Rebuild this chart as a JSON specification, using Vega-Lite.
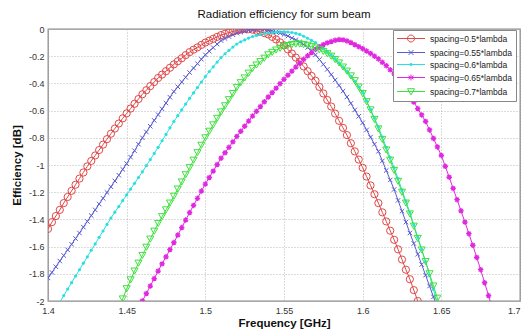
{
"$schema": "https://vega.github.io/schema/vega-lite/v6.json",
"width": 472, "height": 272,
"autosize": {"type": "none"},
"padding": {"left": 48, "top": 29, "right": 3, "bottom": 30},
"background": "white",
"config": {
  "font": "Liberation Sans",
  "view": {"stroke": "#888888", "strokeWidth": 1.3},
  "axis": {"domain": false, "ticks": false, "grid": true, "gridColor": "#b0b0b0", "gridDash": [1, 2], "gridWidth": 0.9, "labelFont": "Liberation Sans", "labelFontSize": 9, "labelColor": "#333333", "titleFont": "Liberation Sans", "titleFontSize": 11.5, "titleFontWeight": "bold", "titleColor": "#111111", "labelFlush": false, "labelOverlap": false}
},
"title": {"text": "Radiation efficiency for sum beam", "fontSize": 11.5, "fontWeight": "normal", "font": "Liberation Sans", "color": "#111111", "offset": 5},
"data": {"values": [
{"s":"0.5","f":1.4,"v":-1.47},{"s":"0.5","f":1.4025,"v":-1.42},{"s":"0.5","f":1.405,"v":-1.375},{"s":"0.5","f":1.4075,"v":-1.33},{"s":"0.5","f":1.41,"v":-1.28},{"s":"0.5","f":1.4125,"v":-1.235},{"s":"0.5","f":1.415,"v":-1.19},{"s":"0.5","f":1.4175,"v":-1.145},{"s":"0.5","f":1.42,"v":-1.1},{"s":"0.5","f":1.4225,"v":-1.055},{"s":"0.5","f":1.425,"v":-1.01},{"s":"0.5","f":1.4275,"v":-0.97},{"s":"0.5","f":1.43,"v":-0.93},{"s":"0.5","f":1.4325,"v":-0.89},{"s":"0.5","f":1.435,"v":-0.85},{"s":"0.5","f":1.4375,"v":-0.81},{"s":"0.5","f":1.44,"v":-0.77},{"s":"0.5","f":1.4425,"v":-0.732},{"s":"0.5","f":1.445,"v":-0.695},{"s":"0.5","f":1.4475,"v":-0.657},{"s":"0.5","f":1.45,"v":-0.62},{"s":"0.5","f":1.4525,"v":-0.585},{"s":"0.5","f":1.455,"v":-0.55},{"s":"0.5","f":1.4575,"v":-0.515},{"s":"0.5","f":1.46,"v":-0.48},{"s":"0.5","f":1.4625,"v":-0.45},{"s":"0.5","f":1.465,"v":-0.42},{"s":"0.5","f":1.4675,"v":-0.39},{"s":"0.5","f":1.47,"v":-0.36},{"s":"0.5","f":1.4725,"v":-0.335},{"s":"0.5","f":1.475,"v":-0.31},{"s":"0.5","f":1.4775,"v":-0.285},{"s":"0.5","f":1.48,"v":-0.26},{"s":"0.5","f":1.4825,"v":-0.237},{"s":"0.5","f":1.485,"v":-0.215},{"s":"0.5","f":1.4875,"v":-0.192},{"s":"0.5","f":1.49,"v":-0.17},{"s":"0.5","f":1.4925,"v":-0.152},{"s":"0.5","f":1.495,"v":-0.135},{"s":"0.5","f":1.4975,"v":-0.117},{"s":"0.5","f":1.5,"v":-0.1},{"s":"0.5","f":1.5025,"v":-0.086},{"s":"0.5","f":1.505,"v":-0.072},{"s":"0.5","f":1.5075,"v":-0.058},{"s":"0.5","f":1.51,"v":-0.045},{"s":"0.5","f":1.5125,"v":-0.035},{"s":"0.5","f":1.515,"v":-0.026},{"s":"0.5","f":1.5175,"v":-0.018},{"s":"0.5","f":1.52,"v":-0.01},{"s":"0.5","f":1.5225,"v":-0.004},{"s":"0.5","f":1.525,"v":0},{"s":"0.5","f":1.5275,"v":-0.001},{"s":"0.5","f":1.53,"v":-0.005},{"s":"0.5","f":1.5325,"v":-0.013},{"s":"0.5","f":1.535,"v":-0.021},{"s":"0.5","f":1.5375,"v":-0.03},{"s":"0.5","f":1.54,"v":-0.04},{"s":"0.5","f":1.5425,"v":-0.058},{"s":"0.5","f":1.545,"v":-0.077},{"s":"0.5","f":1.5475,"v":-0.098},{"s":"0.5","f":1.55,"v":-0.12},{"s":"0.5","f":1.5525,"v":-0.15},{"s":"0.5","f":1.555,"v":-0.18},{"s":"0.5","f":1.5575,"v":-0.21},{"s":"0.5","f":1.56,"v":-0.24},{"s":"0.5","f":1.5625,"v":-0.275},{"s":"0.5","f":1.565,"v":-0.31},{"s":"0.5","f":1.5675,"v":-0.345},{"s":"0.5","f":1.57,"v":-0.38},{"s":"0.5","f":1.5725,"v":-0.426},{"s":"0.5","f":1.575,"v":-0.474},{"s":"0.5","f":1.5775,"v":-0.522},{"s":"0.5","f":1.58,"v":-0.57},{"s":"0.5","f":1.5825,"v":-0.622},{"s":"0.5","f":1.585,"v":-0.675},{"s":"0.5","f":1.5875,"v":-0.727},{"s":"0.5","f":1.59,"v":-0.78},{"s":"0.5","f":1.5925,"v":-0.84},{"s":"0.5","f":1.595,"v":-0.9},{"s":"0.5","f":1.5975,"v":-0.96},{"s":"0.5","f":1.6,"v":-1.02},{"s":"0.5","f":1.6025,"v":-1.085},{"s":"0.5","f":1.605,"v":-1.15},{"s":"0.5","f":1.6075,"v":-1.215},{"s":"0.5","f":1.61,"v":-1.28},{"s":"0.5","f":1.6125,"v":-1.348},{"s":"0.5","f":1.615,"v":-1.415},{"s":"0.5","f":1.6175,"v":-1.483},{"s":"0.5","f":1.62,"v":-1.55},{"s":"0.5","f":1.6225,"v":-1.62},{"s":"0.5","f":1.625,"v":-1.695},{"s":"0.5","f":1.6275,"v":-1.77},{"s":"0.5","f":1.63,"v":-1.84},{"s":"0.5","f":1.6325,"v":-1.92},{"s":"0.5","f":1.635,"v":-2.0},
{"s":"0.55","f":1.4,"v":-1.83},{"s":"0.55","f":1.4025,"v":-1.79},{"s":"0.55","f":1.405,"v":-1.748},{"s":"0.55","f":1.4075,"v":-1.706},{"s":"0.55","f":1.41,"v":-1.665},{"s":"0.55","f":1.4125,"v":-1.624},{"s":"0.55","f":1.415,"v":-1.583},{"s":"0.55","f":1.4175,"v":-1.541},{"s":"0.55","f":1.42,"v":-1.5},{"s":"0.55","f":1.4225,"v":-1.457},{"s":"0.55","f":1.425,"v":-1.415},{"s":"0.55","f":1.4275,"v":-1.372},{"s":"0.55","f":1.43,"v":-1.33},{"s":"0.55","f":1.4325,"v":-1.287},{"s":"0.55","f":1.435,"v":-1.245},{"s":"0.55","f":1.4375,"v":-1.202},{"s":"0.55","f":1.44,"v":-1.16},{"s":"0.55","f":1.4425,"v":-1.117},{"s":"0.55","f":1.445,"v":-1.075},{"s":"0.55","f":1.4475,"v":-1.032},{"s":"0.55","f":1.45,"v":-0.99},{"s":"0.55","f":1.4525,"v":-0.942},{"s":"0.55","f":1.455,"v":-0.895},{"s":"0.55","f":1.4575,"v":-0.847},{"s":"0.55","f":1.46,"v":-0.8},{"s":"0.55","f":1.4625,"v":-0.757},{"s":"0.55","f":1.465,"v":-0.715},{"s":"0.55","f":1.4675,"v":-0.672},{"s":"0.55","f":1.47,"v":-0.63},{"s":"0.55","f":1.4725,"v":-0.587},{"s":"0.55","f":1.475,"v":-0.545},{"s":"0.55","f":1.4775,"v":-0.502},{"s":"0.55","f":1.48,"v":-0.46},{"s":"0.55","f":1.4825,"v":-0.425},{"s":"0.55","f":1.485,"v":-0.39},{"s":"0.55","f":1.4875,"v":-0.355},{"s":"0.55","f":1.49,"v":-0.32},{"s":"0.55","f":1.4925,"v":-0.287},{"s":"0.55","f":1.495,"v":-0.255},{"s":"0.55","f":1.4975,"v":-0.222},{"s":"0.55","f":1.5,"v":-0.19},{"s":"0.55","f":1.5025,"v":-0.163},{"s":"0.55","f":1.505,"v":-0.137},{"s":"0.55","f":1.5075,"v":-0.111},{"s":"0.55","f":1.51,"v":-0.085},{"s":"0.55","f":1.5125,"v":-0.07},{"s":"0.55","f":1.515,"v":-0.056},{"s":"0.55","f":1.5175,"v":-0.042},{"s":"0.55","f":1.52,"v":-0.03},{"s":"0.55","f":1.5225,"v":-0.023},{"s":"0.55","f":1.525,"v":-0.017},{"s":"0.55","f":1.5275,"v":-0.011},{"s":"0.55","f":1.53,"v":-0.005},{"s":"0.55","f":1.5325,"v":-0.002},{"s":"0.55","f":1.535,"v":0},{"s":"0.55","f":1.5375,"v":-0.003},{"s":"0.55","f":1.54,"v":-0.008},{"s":"0.55","f":1.5425,"v":-0.015},{"s":"0.55","f":1.545,"v":-0.023},{"s":"0.55","f":1.5475,"v":-0.031},{"s":"0.55","f":1.55,"v":-0.04},{"s":"0.55","f":1.5525,"v":-0.052},{"s":"0.55","f":1.555,"v":-0.066},{"s":"0.55","f":1.5575,"v":-0.08},{"s":"0.55","f":1.56,"v":-0.095},{"s":"0.55","f":1.5625,"v":-0.114},{"s":"0.55","f":1.565,"v":-0.135},{"s":"0.55","f":1.5675,"v":-0.161},{"s":"0.55","f":1.57,"v":-0.19},{"s":"0.55","f":1.5725,"v":-0.224},{"s":"0.55","f":1.575,"v":-0.26},{"s":"0.55","f":1.5775,"v":-0.297},{"s":"0.55","f":1.58,"v":-0.335},{"s":"0.55","f":1.5825,"v":-0.375},{"s":"0.55","f":1.585,"v":-0.415},{"s":"0.55","f":1.5875,"v":-0.457},{"s":"0.55","f":1.59,"v":-0.5},{"s":"0.55","f":1.5925,"v":-0.547},{"s":"0.55","f":1.595,"v":-0.595},{"s":"0.55","f":1.5975,"v":-0.642},{"s":"0.55","f":1.6,"v":-0.69},{"s":"0.55","f":1.6025,"v":-0.742},{"s":"0.55","f":1.605,"v":-0.795},{"s":"0.55","f":1.6075,"v":-0.847},{"s":"0.55","f":1.61,"v":-0.9},{"s":"0.55","f":1.6125,"v":-0.97},{"s":"0.55","f":1.615,"v":-1.04},{"s":"0.55","f":1.6175,"v":-1.11},{"s":"0.55","f":1.62,"v":-1.18},{"s":"0.55","f":1.6225,"v":-1.26},{"s":"0.55","f":1.625,"v":-1.34},{"s":"0.55","f":1.6275,"v":-1.42},{"s":"0.55","f":1.63,"v":-1.5},{"s":"0.55","f":1.6325,"v":-1.577},{"s":"0.55","f":1.635,"v":-1.655},{"s":"0.55","f":1.6375,"v":-1.732},{"s":"0.55","f":1.64,"v":-1.81},{"s":"0.55","f":1.6425,"v":-1.89},{"s":"0.55","f":1.645,"v":-1.97},{"s":"0.55","f":1.6475,"v":-2.05},
{"s":"0.6","f":1.4075,"v":-2.01},{"s":"0.6","f":1.41,"v":-1.96},{"s":"0.6","f":1.4125,"v":-1.912},{"s":"0.6","f":1.415,"v":-1.865},{"s":"0.6","f":1.4175,"v":-1.817},{"s":"0.6","f":1.42,"v":-1.77},{"s":"0.6","f":1.4225,"v":-1.722},{"s":"0.6","f":1.425,"v":-1.675},{"s":"0.6","f":1.4275,"v":-1.627},{"s":"0.6","f":1.43,"v":-1.58},{"s":"0.6","f":1.4325,"v":-1.532},{"s":"0.6","f":1.435,"v":-1.485},{"s":"0.6","f":1.4375,"v":-1.437},{"s":"0.6","f":1.44,"v":-1.39},{"s":"0.6","f":1.4425,"v":-1.347},{"s":"0.6","f":1.445,"v":-1.305},{"s":"0.6","f":1.4475,"v":-1.262},{"s":"0.6","f":1.45,"v":-1.22},{"s":"0.6","f":1.4525,"v":-1.177},{"s":"0.6","f":1.455,"v":-1.135},{"s":"0.6","f":1.4575,"v":-1.092},{"s":"0.6","f":1.46,"v":-1.05},{"s":"0.6","f":1.4625,"v":-1.005},{"s":"0.6","f":1.465,"v":-0.96},{"s":"0.6","f":1.4675,"v":-0.915},{"s":"0.6","f":1.47,"v":-0.87},{"s":"0.6","f":1.4725,"v":-0.822},{"s":"0.6","f":1.475,"v":-0.775},{"s":"0.6","f":1.4775,"v":-0.727},{"s":"0.6","f":1.48,"v":-0.68},{"s":"0.6","f":1.4825,"v":-0.637},{"s":"0.6","f":1.485,"v":-0.595},{"s":"0.6","f":1.4875,"v":-0.552},{"s":"0.6","f":1.49,"v":-0.51},{"s":"0.6","f":1.4925,"v":-0.47},{"s":"0.6","f":1.495,"v":-0.43},{"s":"0.6","f":1.4975,"v":-0.39},{"s":"0.6","f":1.5,"v":-0.35},{"s":"0.6","f":1.5025,"v":-0.313},{"s":"0.6","f":1.505,"v":-0.278},{"s":"0.6","f":1.5075,"v":-0.243},{"s":"0.6","f":1.51,"v":-0.21},{"s":"0.6","f":1.5125,"v":-0.182},{"s":"0.6","f":1.515,"v":-0.157},{"s":"0.6","f":1.5175,"v":-0.133},{"s":"0.6","f":1.52,"v":-0.11},{"s":"0.6","f":1.5225,"v":-0.094},{"s":"0.6","f":1.525,"v":-0.08},{"s":"0.6","f":1.5275,"v":-0.067},{"s":"0.6","f":1.53,"v":-0.055},{"s":"0.6","f":1.5325,"v":-0.047},{"s":"0.6","f":1.535,"v":-0.04},{"s":"0.6","f":1.5375,"v":-0.035},{"s":"0.6","f":1.54,"v":-0.03},{"s":"0.6","f":1.5425,"v":-0.026},{"s":"0.6","f":1.545,"v":-0.023},{"s":"0.6","f":1.5475,"v":-0.021},{"s":"0.6","f":1.55,"v":-0.02},{"s":"0.6","f":1.5525,"v":-0.022},{"s":"0.6","f":1.555,"v":-0.026},{"s":"0.6","f":1.5575,"v":-0.032},{"s":"0.6","f":1.56,"v":-0.04},{"s":"0.6","f":1.5625,"v":-0.053},{"s":"0.6","f":1.565,"v":-0.068},{"s":"0.6","f":1.5675,"v":-0.084},{"s":"0.6","f":1.57,"v":-0.1},{"s":"0.6","f":1.5725,"v":-0.121},{"s":"0.6","f":1.575,"v":-0.143},{"s":"0.6","f":1.5775,"v":-0.166},{"s":"0.6","f":1.58,"v":-0.19},{"s":"0.6","f":1.5825,"v":-0.218},{"s":"0.6","f":1.585,"v":-0.248},{"s":"0.6","f":1.5875,"v":-0.278},{"s":"0.6","f":1.59,"v":-0.31},{"s":"0.6","f":1.5925,"v":-0.347},{"s":"0.6","f":1.595,"v":-0.385},{"s":"0.6","f":1.5975,"v":-0.425},{"s":"0.6","f":1.6,"v":-0.465},{"s":"0.6","f":1.6025,"v":-0.528},{"s":"0.6","f":1.605,"v":-0.59},{"s":"0.6","f":1.6075,"v":-0.655},{"s":"0.6","f":1.61,"v":-0.72},{"s":"0.6","f":1.6125,"v":-0.795},{"s":"0.6","f":1.615,"v":-0.87},{"s":"0.6","f":1.6175,"v":-0.945},{"s":"0.6","f":1.62,"v":-1.02},{"s":"0.6","f":1.6225,"v":-1.1},{"s":"0.6","f":1.625,"v":-1.185},{"s":"0.6","f":1.6275,"v":-1.267},{"s":"0.6","f":1.63,"v":-1.35},{"s":"0.6","f":1.6325,"v":-1.44},{"s":"0.6","f":1.635,"v":-1.53},{"s":"0.6","f":1.6375,"v":-1.62},{"s":"0.6","f":1.64,"v":-1.71},{"s":"0.6","f":1.6425,"v":-1.81},{"s":"0.6","f":1.645,"v":-1.915},{"s":"0.6","f":1.6475,"v":-2.02},
{"s":"0.65","f":1.4575,"v":-2.06},{"s":"0.65","f":1.46,"v":-2.0},{"s":"0.65","f":1.4625,"v":-1.945},{"s":"0.65","f":1.465,"v":-1.89},{"s":"0.65","f":1.4675,"v":-1.835},{"s":"0.65","f":1.47,"v":-1.78},{"s":"0.65","f":1.4725,"v":-1.727},{"s":"0.65","f":1.475,"v":-1.675},{"s":"0.65","f":1.4775,"v":-1.622},{"s":"0.65","f":1.48,"v":-1.57},{"s":"0.65","f":1.4825,"v":-1.515},{"s":"0.65","f":1.485,"v":-1.46},{"s":"0.65","f":1.4875,"v":-1.405},{"s":"0.65","f":1.49,"v":-1.35},{"s":"0.65","f":1.4925,"v":-1.297},{"s":"0.65","f":1.495,"v":-1.245},{"s":"0.65","f":1.4975,"v":-1.192},{"s":"0.65","f":1.5,"v":-1.14},{"s":"0.65","f":1.5025,"v":-1.092},{"s":"0.65","f":1.505,"v":-1.045},{"s":"0.65","f":1.5075,"v":-0.997},{"s":"0.65","f":1.51,"v":-0.95},{"s":"0.65","f":1.5125,"v":-0.91},{"s":"0.65","f":1.515,"v":-0.87},{"s":"0.65","f":1.5175,"v":-0.83},{"s":"0.65","f":1.52,"v":-0.79},{"s":"0.65","f":1.5225,"v":-0.752},{"s":"0.65","f":1.525,"v":-0.715},{"s":"0.65","f":1.5275,"v":-0.677},{"s":"0.65","f":1.53,"v":-0.64},{"s":"0.65","f":1.5325,"v":-0.605},{"s":"0.65","f":1.535,"v":-0.57},{"s":"0.65","f":1.5375,"v":-0.535},{"s":"0.65","f":1.54,"v":-0.5},{"s":"0.65","f":1.5425,"v":-0.467},{"s":"0.65","f":1.545,"v":-0.435},{"s":"0.65","f":1.5475,"v":-0.402},{"s":"0.65","f":1.55,"v":-0.37},{"s":"0.65","f":1.5525,"v":-0.34},{"s":"0.65","f":1.555,"v":-0.31},{"s":"0.65","f":1.5575,"v":-0.28},{"s":"0.65","f":1.56,"v":-0.25},{"s":"0.65","f":1.5625,"v":-0.223},{"s":"0.65","f":1.565,"v":-0.197},{"s":"0.65","f":1.5675,"v":-0.173},{"s":"0.65","f":1.57,"v":-0.15},{"s":"0.65","f":1.5725,"v":-0.132},{"s":"0.65","f":1.575,"v":-0.115},{"s":"0.65","f":1.5775,"v":-0.102},{"s":"0.65","f":1.58,"v":-0.092},{"s":"0.65","f":1.5825,"v":-0.083},{"s":"0.65","f":1.585,"v":-0.078},{"s":"0.65","f":1.5875,"v":-0.08},{"s":"0.65","f":1.59,"v":-0.088},{"s":"0.65","f":1.5925,"v":-0.1},{"s":"0.65","f":1.595,"v":-0.115},{"s":"0.65","f":1.5975,"v":-0.13},{"s":"0.65","f":1.6,"v":-0.145},{"s":"0.65","f":1.6025,"v":-0.162},{"s":"0.65","f":1.605,"v":-0.18},{"s":"0.65","f":1.6075,"v":-0.2},{"s":"0.65","f":1.61,"v":-0.22},{"s":"0.65","f":1.6125,"v":-0.245},{"s":"0.65","f":1.615,"v":-0.27},{"s":"0.65","f":1.6175,"v":-0.3},{"s":"0.65","f":1.62,"v":-0.33},{"s":"0.65","f":1.6225,"v":-0.37},{"s":"0.65","f":1.625,"v":-0.41},{"s":"0.65","f":1.6275,"v":-0.45},{"s":"0.65","f":1.63,"v":-0.49},{"s":"0.65","f":1.6325,"v":-0.537},{"s":"0.65","f":1.635,"v":-0.585},{"s":"0.65","f":1.6375,"v":-0.632},{"s":"0.65","f":1.64,"v":-0.68},{"s":"0.65","f":1.6425,"v":-0.742},{"s":"0.65","f":1.645,"v":-0.805},{"s":"0.65","f":1.6475,"v":-0.867},{"s":"0.65","f":1.65,"v":-0.93},{"s":"0.65","f":1.6525,"v":-1.01},{"s":"0.65","f":1.655,"v":-1.09},{"s":"0.65","f":1.6575,"v":-1.172},{"s":"0.65","f":1.66,"v":-1.255},{"s":"0.65","f":1.6625,"v":-1.337},{"s":"0.65","f":1.665,"v":-1.42},{"s":"0.65","f":1.6675,"v":-1.505},{"s":"0.65","f":1.67,"v":-1.59},{"s":"0.65","f":1.6725,"v":-1.68},{"s":"0.65","f":1.675,"v":-1.77},{"s":"0.65","f":1.6775,"v":-1.865},{"s":"0.65","f":1.68,"v":-1.96},{"s":"0.65","f":1.6825,"v":-2.06},
{"s":"0.7","f":1.445,"v":-2.06},{"s":"0.7","f":1.4475,"v":-1.985},{"s":"0.7","f":1.45,"v":-1.91},{"s":"0.7","f":1.4525,"v":-1.845},{"s":"0.7","f":1.455,"v":-1.78},{"s":"0.7","f":1.4575,"v":-1.722},{"s":"0.7","f":1.46,"v":-1.665},{"s":"0.7","f":1.4625,"v":-1.605},{"s":"0.7","f":1.465,"v":-1.545},{"s":"0.7","f":1.4675,"v":-1.487},{"s":"0.7","f":1.47,"v":-1.43},{"s":"0.7","f":1.4725,"v":-1.38},{"s":"0.7","f":1.475,"v":-1.33},{"s":"0.7","f":1.4775,"v":-1.28},{"s":"0.7","f":1.48,"v":-1.23},{"s":"0.7","f":1.4825,"v":-1.177},{"s":"0.7","f":1.485,"v":-1.125},{"s":"0.7","f":1.4875,"v":-1.072},{"s":"0.7","f":1.49,"v":-1.02},{"s":"0.7","f":1.4925,"v":-0.965},{"s":"0.7","f":1.495,"v":-0.91},{"s":"0.7","f":1.4975,"v":-0.855},{"s":"0.7","f":1.5,"v":-0.8},{"s":"0.7","f":1.5025,"v":-0.752},{"s":"0.7","f":1.505,"v":-0.705},{"s":"0.7","f":1.5075,"v":-0.657},{"s":"0.7","f":1.51,"v":-0.61},{"s":"0.7","f":1.5125,"v":-0.565},{"s":"0.7","f":1.515,"v":-0.52},{"s":"0.7","f":1.5175,"v":-0.475},{"s":"0.7","f":1.52,"v":-0.43},{"s":"0.7","f":1.5225,"v":-0.395},{"s":"0.7","f":1.525,"v":-0.36},{"s":"0.7","f":1.5275,"v":-0.325},{"s":"0.7","f":1.53,"v":-0.29},{"s":"0.7","f":1.5325,"v":-0.265},{"s":"0.7","f":1.535,"v":-0.24},{"s":"0.7","f":1.5375,"v":-0.215},{"s":"0.7","f":1.54,"v":-0.19},{"s":"0.7","f":1.5425,"v":-0.172},{"s":"0.7","f":1.545,"v":-0.155},{"s":"0.7","f":1.5475,"v":-0.142},{"s":"0.7","f":1.55,"v":-0.13},{"s":"0.7","f":1.5525,"v":-0.122},{"s":"0.7","f":1.555,"v":-0.115},{"s":"0.7","f":1.5575,"v":-0.111},{"s":"0.7","f":1.56,"v":-0.111},{"s":"0.7","f":1.5625,"v":-0.115},{"s":"0.7","f":1.565,"v":-0.12},{"s":"0.7","f":1.5675,"v":-0.13},{"s":"0.7","f":1.57,"v":-0.14},{"s":"0.7","f":1.5725,"v":-0.152},{"s":"0.7","f":1.575,"v":-0.165},{"s":"0.7","f":1.5775,"v":-0.182},{"s":"0.7","f":1.58,"v":-0.2},{"s":"0.7","f":1.5825,"v":-0.225},{"s":"0.7","f":1.585,"v":-0.25},{"s":"0.7","f":1.5875,"v":-0.28},{"s":"0.7","f":1.59,"v":-0.31},{"s":"0.7","f":1.5925,"v":-0.345},{"s":"0.7","f":1.595,"v":-0.38},{"s":"0.7","f":1.5975,"v":-0.427},{"s":"0.7","f":1.6,"v":-0.475},{"s":"0.7","f":1.6025,"v":-0.535},{"s":"0.7","f":1.605,"v":-0.595},{"s":"0.7","f":1.6075,"v":-0.665},{"s":"0.7","f":1.61,"v":-0.735},{"s":"0.7","f":1.6125,"v":-0.812},{"s":"0.7","f":1.615,"v":-0.89},{"s":"0.7","f":1.6175,"v":-0.965},{"s":"0.7","f":1.62,"v":-1.04},{"s":"0.7","f":1.6225,"v":-1.12},{"s":"0.7","f":1.625,"v":-1.2},{"s":"0.7","f":1.6275,"v":-1.28},{"s":"0.7","f":1.63,"v":-1.36},{"s":"0.7","f":1.6325,"v":-1.45},{"s":"0.7","f":1.635,"v":-1.54},{"s":"0.7","f":1.6375,"v":-1.625},{"s":"0.7","f":1.64,"v":-1.71},{"s":"0.7","f":1.6425,"v":-1.8},{"s":"0.7","f":1.645,"v":-1.89},{"s":"0.7","f":1.6475,"v":-1.98},{"s":"0.7","f":1.65,"v":-2.07}
]},
"encoding": {
  "x": {"field": "f", "type": "quantitative", "scale": {"domain": [1.4, 1.7], "nice": false, "zero": false},
        "axis": {"title": "Frequency [GHz]", "values": [1.4, 1.45, 1.5, 1.55, 1.6, 1.65, 1.7], "labelExpr": "'' + datum.value", "labelPadding": 5, "titlePadding": 2,
                 "labelAlign": {"condition": {"test": "datum.value >= 1.69", "value": "right"}, "value": "center"}}},
  "y": {"field": "v", "type": "quantitative", "scale": {"domain": [-2, 0], "nice": false, "zero": false},
        "axis": {"title": "Efficiency [dB]", "values": [0, -0.2, -0.4, -0.6, -0.8, -1, -1.2, -1.4, -1.6, -1.8, -2], "labelExpr": "'' + datum.value", "labelPadding": 4, "titlePadding": 6}}
},
"layer": [
  {"mark": {"type": "line", "strokeWidth": 1, "clip": true},
   "encoding": {"color": {"field": "s", "type": "nominal",
     "scale": {"domain": ["0.5", "0.55", "0.6", "0.65", "0.7"], "range": ["#e04848", "#5a5ad2", "#28e0e0", "#e028e0", "#3ee03e"]},
     "legend": {"title": null, "orient": "none", "legendX": 345, "legendY": 1, "padding": 4, "strokeColor": "#888888", "fillColor": "#ffffff",
       "rowPadding": 3, "labelOffset": 24, "labelFontSize": 8.5, "labelFont": "Liberation Sans", "labelColor": "#222222", "symbolSize": 64, "symbolStrokeWidth": 1, "symbolFillColor": "transparent",
       "labelExpr": "'spacing=' + datum.label + '*lambda'",
       "encode": {"symbols": {"update": {
         "shape": {"signal": "datum.value == '0.5' ? 'M-1.125,0L5.875,0M3.25,0A0.875,0.875,0,1,1,1.5,0A0.875,0.875,0,1,1,3.25,0' : datum.value == '0.55' ? 'M-1.125,0L5.875,0M1.75,-0.625L3,0.625M1.75,0.625L3,-0.625' : datum.value == '0.6' ? 'M-1.125,0L5.875,0M2.675,0A0.3,0.3,0,1,1,2.075,0A0.3,0.3,0,1,1,2.675,0' : datum.value == '0.65' ? 'M-1.125,0L5.875,0M2.375,-0.75L2.375,0.75M1.725,-0.4L3.025,0.4M1.725,0.4L3.025,-0.4' : 'M-1.125,0L5.875,0M1.5,-0.7L3.25,-0.7L2.375,0.85Z'"},
         "fillOpacity": {"value": 0}, "strokeWidth": {"value": 1}, "opacity": {"value": 1}}}}}}}},
  {"transform": [{"filter": {"field": "s", "equal": "0.5"}}],
   "mark": {"type": "point", "shape": "circle", "size": 52, "filled": false, "strokeWidth": 1, "opacity": 1, "clip": true},
   "encoding": {"color": {"field": "s", "type": "nominal", "legend": null}}},
  {"transform": [{"filter": {"field": "s", "equal": "0.55"}}],
   "mark": {"type": "point", "shape": "M-1,-1L1,1M-1,1L1,-1", "size": 20, "filled": false, "strokeWidth": 1, "opacity": 1, "clip": true},
   "encoding": {"color": {"field": "s", "type": "nominal", "legend": null}}},
  {"transform": [{"filter": {"field": "s", "equal": "0.6"}}],
   "mark": {"type": "point", "shape": "circle", "size": 10, "filled": true, "opacity": 1, "clip": true},
   "encoding": {"color": {"field": "s", "type": "nominal", "legend": null}}},
  {"transform": [{"filter": {"field": "s", "equal": "0.65"}}],
   "mark": {"type": "point", "shape": "M-1,0L1,0M0,-1L0,1M-0.7,-0.7L0.7,0.7M-0.7,0.7L0.7,-0.7", "size": 30, "filled": false, "strokeWidth": 1.3, "opacity": 1, "clip": true},
   "encoding": {"color": {"field": "s", "type": "nominal", "legend": null}}},
  {"transform": [{"filter": {"field": "s", "equal": "0.7"}}],
   "mark": {"type": "point", "shape": "triangle-down", "size": 50, "filled": false, "strokeWidth": 1, "opacity": 1, "clip": true},
   "encoding": {"color": {"field": "s", "type": "nominal", "legend": null}}}
]
}
